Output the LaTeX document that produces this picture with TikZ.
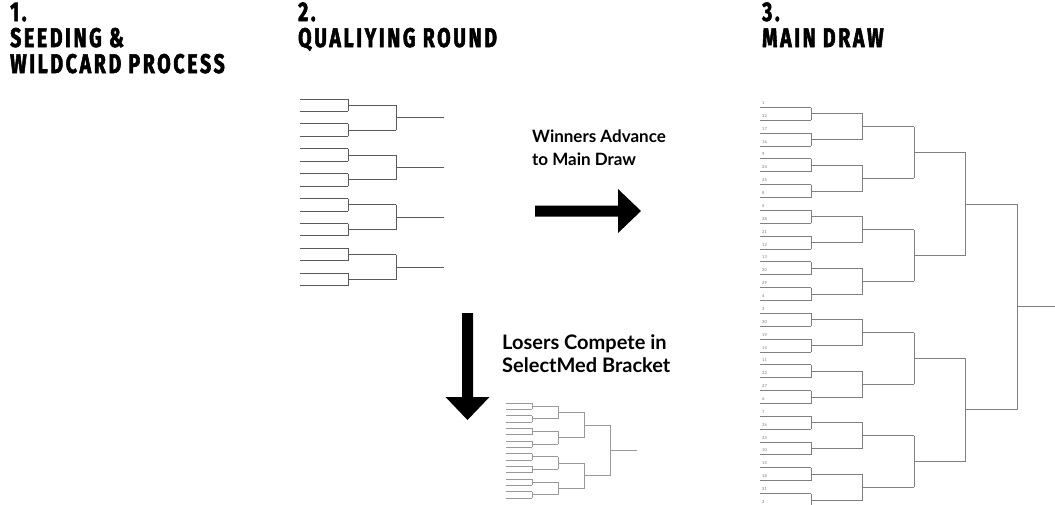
\documentclass[tikz,border=0pt]{standalone}
\usepackage{fontspec}
\setmainfont{Lato}
\newfontfamily\headfont[FakeStretch=0.72,LetterSpace=10,BoldFeatures={FakeBold=2}]{Fira Sans}
\usetikzlibrary{calc}

\tikzset{
  heading/.style={anchor=base west,inner sep=0pt,font=\headfont\bfseries\fontsize{27}{27}\selectfont},
  note/.style={anchor=base west,inner sep=0pt,font=\bfseries\fontsize{17}{22}\selectfont},
  seed/.style={anchor=base west,inner sep=0pt,font=\fontsize{4}{4}\selectfont,text=black!55},
  qualline/.style={line width=1pt,draw=black!65},
  mainline/.style={line width=1pt,draw=black!50},
  loseline/.style={line width=0.8pt,draw=black!40},
}

% bracket: x0, y0 (first slot), dx (round width), dy (slot gap), rounds, style
\newcommand{\drawbracket}[6]{%
  \pgfmathtruncatemacro{\nslots}{2^#5}
  \foreach \i in {1,...,\nslots}{
    \draw[#6] (#1,{#2+(\i-1)*#4}) -- ++(#3,0);
  }
  \foreach \k in {1,...,#5}{
    \pgfmathtruncatemacro{\ng}{2^(#5-\k)}
    \pgfmathtruncatemacro{\gs}{2^\k}
    \pgfmathsetmacro{\xk}{#1+\k*#3}
    \foreach \j in {1,...,\ng}{
      \pgfmathsetmacro{\ya}{#2+((\j-1)*\gs+(\gs/2-1)/2)*#4}
      \pgfmathsetmacro{\yb}{\ya+\gs/2*#4}
      \draw[#6] (\xk,\ya) -- (\xk,\yb);
      \draw[#6] (\xk,{(\ya+\yb)/2}) -- ++(#3,0);
    }
  }
}

\begin{document}
\begin{tikzpicture}[x=1pt,y=-1pt]
\clip (0,0) rectangle (1055,504);
\fill[white] (0,0) rectangle (1055,504);

% headings
\node[heading] (numA) at (10,21) {1.};
\node[heading] (seedA) at (10,47) {SEEDING \&};
\node[heading] (seedB) at (10,73) {WILDCARD PROCESS};
\node[heading] (numB) at (298,21) {2.};
\node[heading] (qualA) at (298,47) {QUALIYING ROUND};
\node[heading] (numC) at (762,21) {3.};
\node[heading] (mainA) at (762,47) {MAIN DRAW};

% qualifying round
\foreach \m in {0,...,3}
  \drawbracket{300}{99+\m*49.8}{48}{12.45}{2}{qualline};

% winners
\node[note] (winA) at (532,142) {Winners Advance};
\node[note] (winB) at (532,165) {to Main Draw};
\fill (535,205.5) -- (618,205.5) -- (618,189) -- (641,211) -- (618,233)
  -- (618,216.5) -- (535,216.5) -- cycle;

% losers
\node[note,font=\bfseries\fontsize{20}{22}\selectfont] (loseA) at (502,349) {Losers Compete in};
\node[note,font=\bfseries\fontsize{20}{22}\selectfont] (loseB) at (502,372) {SelectMed Bracket};
\fill (462,313) -- (473,313) -- (473,397) -- (489.5,397) -- (467.5,420)
  -- (445.5,397) -- (462,397) -- cycle;
\drawbracket{506}{403}{26.2}{6.33}{4}{loseline}

% main draw
\drawbracket{760}{107.5}{51.4}{12.87}{5}{mainline}
\foreach \s [count=\i from 0] in {1,32,17,16,9,24,25,8,5,28,21,12,13,20,29,4,3,30,19,14,11,22,27,6,7,26,23,10,15,18,31,2}
  \node[seed] (seed\i) at (762,{107.5+\i*12.87-3}) {\s};
\end{tikzpicture}
\end{document}
